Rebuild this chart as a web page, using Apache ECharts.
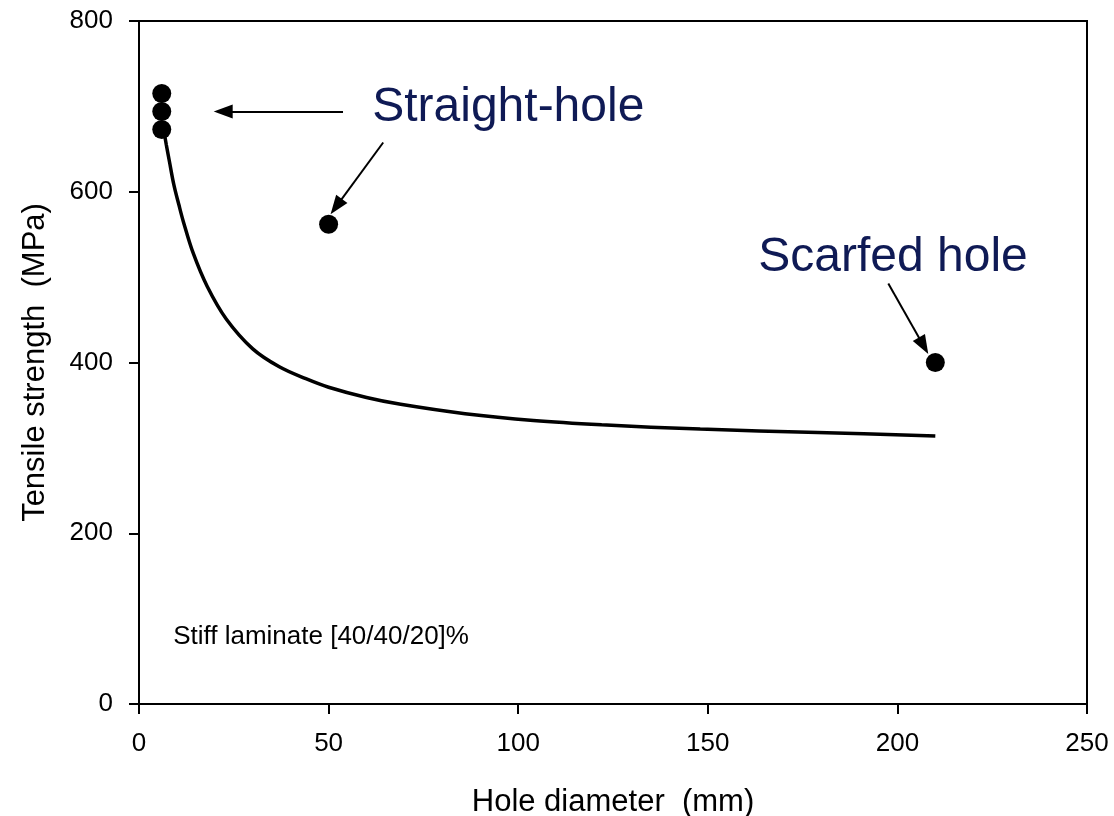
<!DOCTYPE html>
<html>
<head>
<meta charset="utf-8">
<script src="https://cdn.jsdelivr.net/npm/echarts@6/dist/echarts.min.js"></script>
<style>
  html, body { margin: 0; padding: 0; background: #fff; }
  #chart { width: 1114px; height: 816px; }
</style>
</head>
<body>
<div id="chart"></div>
<script>
// Axis ranges and ticks
const xTicks = [0, 50, 100, 150, 200, 250];
const yTicks = [0, 200, 400, 600, 800];

// Measured strengths: straight-hole specimens
const straightHole = [[6, 715], [6, 694], [6, 673], [50, 562]];
// Scarfed hole repair
const scarfedHole = [[210, 400]];

// Predicted strength vs hole diameter
const predictedCurve = [
  [6.5, 673], [7.2, 655], [8, 636], [9.2, 608], [10.5, 585], [11.7, 565],
  [14.3, 528], [18, 489], [23, 451], [30, 416], [37, 395], [44, 381],
  [50, 371], [60, 359], [69, 351], [86, 340], [104, 332], [122, 327],
  [148, 322], [179, 318], [210, 314]
];

// Annotation texts, anchored at their left-middle point
const notes = [
  [61.5, 698.7, 'Straight-hole', 48],
  [163.3, 522.9, 'Scarfed hole', 48],
  [9.0, 78.5, 'Stiff laminate [40/40/20]%', 26]
];

// Pointer arrows: [from, to]
const arrows = [
  [[53.8, 694], [22.2, 694]],
  [[64.4, 657.7], [52.0, 582.6]],
  [[197.6, 492.4], [206.9, 419.7]]
];

const FONT = 'Liberation Sans, Arial, Helvetica, sans-serif';
const NAVY = '#0f1a55';
const chart = echarts.init(document.getElementById('chart'), null, { renderer: 'canvas' });

chart.setOption({
  backgroundColor: '#ffffff',
  animation: false,
  textStyle: { fontFamily: FONT },
  grid: {
    left: 139, right: 27, top: 21, bottom: 112,
    containLabel: false,
    outerBoundsMode: 'none',
    show: true, borderColor: '#000', borderWidth: 2, backgroundColor: 'transparent'
  },
  xAxis: {
    type: 'value',
    min: xTicks[0], max: xTicks[xTicks.length - 1], interval: 50,
    name: 'Hole diameter  (mm)',
    nameLocation: 'middle', nameGap: 83,
    nameTextStyle: { fontSize: 31, color: '#000', fontFamily: FONT },
    axisLine: { show: true, lineStyle: { color: '#000', width: 2 } },
    axisTick: { show: true, inside: false, length: 10, lineStyle: { color: '#000', width: 2 } },
    axisLabel: { fontSize: 26, color: '#000', margin: 27, fontFamily: FONT },
    splitLine: { show: false }
  },
  yAxis: {
    type: 'value',
    min: yTicks[0], max: yTicks[yTicks.length - 1], interval: 200,
    name: 'Tensile strength  (MPa)',
    nameLocation: 'middle', nameGap: 88,
    nameTextStyle: { fontSize: 31, color: '#000', fontFamily: FONT },
    axisLine: { show: true, lineStyle: { color: '#000', width: 2 } },
    axisTick: { show: true, inside: false, length: 10, lineStyle: { color: '#000', width: 2 } },
    axisLabel: { fontSize: 26, color: '#000', margin: 26, fontFamily: FONT },
    splitLine: { show: false }
  },
  series: [
    {
      name: 'Prediction',
      type: 'line',
      data: predictedCurve,
      smooth: 0.35,
      showSymbol: false,
      lineStyle: { color: '#000', width: 3.5 },
      z: 2,
      markLine: {
        silent: true,
        symbol: ['none', 'triangle'],
        symbolSize: [14, 19],
        label: { show: false },
        lineStyle: { color: '#000', width: 2, type: 'solid', opacity: 1 },
        itemStyle: { color: '#000' },
        data: arrows.map(a => [{ coord: a[0] }, { coord: a[1] }])
      }
    },
    {
      name: 'Straight-hole',
      type: 'scatter',
      data: straightHole,
      symbol: 'circle',
      symbolSize: 19,
      itemStyle: { color: '#000', opacity: 1 },
      z: 3
    },
    {
      name: 'Scarfed hole',
      type: 'scatter',
      data: scarfedHole,
      symbol: 'circle',
      symbolSize: 19,
      itemStyle: { color: '#000', opacity: 1 },
      z: 3
    },
    {
      name: 'Notes',
      type: 'scatter',
      data: notes.map(n => ({
        value: [n[0], n[1]],
        label: {
          show: true,
          position: 'right',
          distance: 0,
          formatter: n[2],
          fontSize: n[3],
          color: n[3] > 30 ? NAVY : '#000',
          opacity: 1,
          fontFamily: FONT
        }
      })),
      symbolSize: 0,
      itemStyle: { opacity: 1 },
      silent: true,
      z: 4
    }
  ]
});
</script>
</body>
</html>
